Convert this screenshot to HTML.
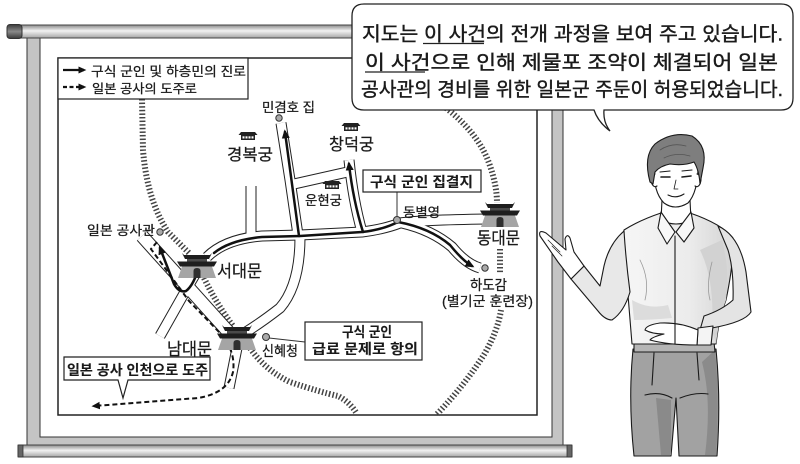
<!DOCTYPE html>
<html><head><meta charset="utf-8">
<style>
html,body{margin:0;padding:0;background:#fff;}
svg{display:block;}
text{font-family:"Liberation Sans","Noto Sans CJK KR",sans-serif;fill:#1a1a1a;stroke:#1a1a1a;stroke-width:0.25;}
.b{font-weight:bold;stroke-width:0.1;}
.bt{stroke-width:0.4;}
</style></head><body>
<svg width="800" height="464" viewBox="0 0 800 464" xmlns="http://www.w3.org/2000/svg">
<defs>
<linearGradient id="rod" x1="0" y1="0" x2="0" y2="1">
<stop offset="0" stop-color="#8a8a8a"/><stop offset="0.45" stop-color="#f2f2f2"/><stop offset="1" stop-color="#a5a5a5"/>
</linearGradient>
<linearGradient id="cap" x1="0" y1="0" x2="0" y2="1">
<stop offset="0" stop-color="#3a3a3a"/><stop offset="0.5" stop-color="#8a8a8a"/><stop offset="1" stop-color="#3a3a3a"/>
</linearGradient>
<linearGradient id="shirt" x1="0" y1="0" x2="1" y2="0">
<stop offset="0" stop-color="#f6f6f6"/><stop offset="0.6" stop-color="#ececec"/><stop offset="1" stop-color="#d4d4d4"/>
</linearGradient>
<marker id="ah" viewBox="0 0 10 10" refX="7" refY="5" markerWidth="3.6" markerHeight="3.6" orient="auto"><path d="M0,0.5 L10,5 L0,9.5 Z" fill="#111"/></marker>
<marker id="ahd" viewBox="0 0 10 10" refX="7" refY="5" markerWidth="4.2" markerHeight="4.2" orient="auto"><path d="M0,0.5 L10,5 L0,9.5 Z" fill="#111"/></marker>
<g id="gate">
 <polygon points="-13,2 13,2 15,0 12,6 -12,6 -15,0" fill="#1e1e1e"/>
 <rect x="-10" y="6" width="20" height="3" fill="#4a4a4a"/>
 <polygon points="-20,8.5 20,8.5 17,13.5 -17,13.5" fill="#1e1e1e"/>
 <polygon points="-15,13.5 15,13.5 19,25 -19,25" fill="#a5a5a5"/>
 <path d="M-3.5,25 V18 Q-3.5,15 0,15 Q3.5,15 3.5,18 V25 Z" fill="#2e2e2e"/>
</g>
<g id="pal">
 <polygon points="-7,0 7,0 9.5,3 -9.5,3" fill="#222"/>
 <rect x="-7" y="3" width="14" height="5" fill="#222"/>
 <rect x="-5.5" y="4.3" width="2" height="2.2" fill="#fff"/>
 <rect x="-2.5" y="4.3" width="2" height="2.2" fill="#fff"/>
 <rect x="0.5" y="4.3" width="2" height="2.2" fill="#fff"/>
 <rect x="3.5" y="4.3" width="2" height="2.2" fill="#fff"/>
</g>
</defs>

<!-- panel -->
<rect x="27" y="36" width="536" height="409" fill="#c4c4c4" stroke="#333" stroke-width="1"/>
<rect x="40" y="36" width="512" height="401" fill="#fff" stroke="#333" stroke-width="1"/>

<!-- map border -->
<rect x="58" y="58" width="479" height="357" fill="#fff" stroke="#222" stroke-width="1.5"/>

<!-- fortress walls -->
<g fill="none" stroke="#444" stroke-width="6" stroke-dasharray="1.5 2.1">
 <path d="M142,99 L143,150 Q147,200 168,232 L190,254"/>
 <path d="M204,278 Q216,303 233,326"/>
 <path d="M250,348 Q265,370 290,382 Q320,392 338,396 Q350,402 357,414"/>
 <path d="M437,414 Q465,385 485,353 Q498,330 501,310"/>
 <path d="M500,249 L500,273"/>
 <path d="M446,108 Q478,133 489,163 Q497,185 497,203"/>
</g>

<!-- roads -->
<g fill="none" stroke="#222" stroke-width="11" stroke-linejoin="round">
 <path d="M207,257 Q225,239 262,236 L300,235 L362,232 Q385,229 400,223 Q420,220 487,219"/>
 <path d="M402,223 Q432,230 452,247 Q466,264 480,268"/>
 <path d="M298,235 L290,180 L281,123"/>
 <path d="M362,232 Q353,200 349,160"/>
 <path d="M294,184 L352,171"/>
 <path d="M251,236 L251,186"/>
 <path d="M300,237 Q300,285 280,308 Q262,322 246,332"/>
 <path d="M199,268 L186,290 L160,336"/>
 <path d="M237,348 L229,388"/>
</g>
<path d="M142,236 L233,337" fill="none" stroke="#222" stroke-width="14"/>
<g fill="none" stroke="#fff" stroke-width="9" stroke-linejoin="round">
 <path d="M207,257 Q225,239 262,236 L300,235 L362,232 Q385,229 400,223 Q420,220 487,219"/>
 <path d="M402,223 Q432,230 452,247 Q466,264 480,268"/>
 <path d="M298,235 L290,180 L281,123"/>
 <path d="M362,232 Q353,200 349,160"/>
 <path d="M294,184 L352,171"/>
 <path d="M251,236 L251,186"/>
 <path d="M300,237 Q300,285 280,308 Q262,322 246,332"/>
 <path d="M199,268 L186,290 L160,336"/>
 <path d="M237,348 L229,388"/>
</g>
<path d="M142,236 L233,337" fill="none" stroke="#fff" stroke-width="12"/>

<!-- routes -->
<g fill="none" stroke="#111" stroke-width="2.5" stroke-linejoin="round" stroke-linecap="round">
 <path d="M398,222 Q382,230 362,232 L300,236 L262,237 Q230,240 214,253"/>
 <path d="M199,266 Q194,285 186,291 Q179,293 174,284 L160,248" marker-end="url(#ah)"/>
 <path d="M299,236 L285,132" marker-end="url(#ah)"/>
 <path d="M363,232 Q353,200 349,164" marker-end="url(#ah)"/>
 <path d="M398,222 Q430,228 450,245 Q463,261 472,266" marker-end="url(#ah)"/>
</g>
<path d="M157,242 L151,249 L189,301 L221,334 Q236,352 233,372 Q228,393 198,398 L94,406" fill="none" stroke="#111" stroke-width="2" stroke-dasharray="5 3" marker-end="url(#ahd)"/>

<!-- gates & palaces -->
<use href="#gate" x="197" y="253"/>
<use href="#gate" x="237" y="325"/>
<use href="#gate" x="500" y="202"/>
<use href="#pal" x="248" y="132"/>
<use href="#pal" x="351" y="123"/>
<use href="#pal" x="332" y="181"/>

<!-- dots -->
<g fill="#aaa" stroke="#333" stroke-width="1">
 <circle cx="279" cy="118" r="3.2"/>
 <circle cx="397" cy="220" r="3.5"/>
 <circle cx="485" cy="268" r="3.2"/>
 <circle cx="160" cy="232" r="3.2"/>
 <circle cx="266" cy="337" r="3.5"/>
</g>

<!-- connectors -->
<line x1="397" y1="192" x2="397" y2="217" stroke="#333" stroke-width="1"/>
<line x1="269" y1="338" x2="305" y2="342" stroke="#333" stroke-width="1"/>

<!-- boxes -->
<rect x="363" y="170" width="118" height="22" fill="#fff" stroke="#222" stroke-width="1.2"/>
<rect x="305" y="322" width="117" height="38" fill="#fff" stroke="#222" stroke-width="1.2"/>
<path d="M64,357 H210 V380 H128 L123,398 L118,380 H64 Z" fill="#fff" stroke="#222" stroke-width="1.2"/>

<!-- labels -->
<text x="262" y="112" font-size="13" textLength="53" lengthAdjust="spacingAndGlyphs">민겸호 집</text>
<text x="227" y="160" font-size="16" textLength="46" lengthAdjust="spacingAndGlyphs">경복궁</text>
<text x="329" y="150" font-size="16.5" textLength="45" lengthAdjust="spacingAndGlyphs">창덕궁</text>
<text x="305" y="205" font-size="13" textLength="37" lengthAdjust="spacingAndGlyphs">운현궁</text>
<text class="b" x="370" y="187" font-size="14" textLength="103" lengthAdjust="spacingAndGlyphs">구식 군인 집결지</text>
<text x="403" y="217" font-size="13" textLength="37" lengthAdjust="spacingAndGlyphs">동별영</text>
<text x="477" y="244" font-size="17" textLength="43" lengthAdjust="spacingAndGlyphs">동대문</text>
<text x="470" y="290" font-size="14" textLength="37" lengthAdjust="spacingAndGlyphs">하도감</text>
<text x="442" y="306" font-size="13.5" textLength="91" lengthAdjust="spacingAndGlyphs">(별기군 훈련장)</text>
<text x="87" y="235" font-size="13" textLength="68" lengthAdjust="spacingAndGlyphs">일본 공사관</text>
<text x="217" y="277" font-size="17" textLength="45" lengthAdjust="spacingAndGlyphs">서대문</text>
<text x="167" y="355" font-size="17" textLength="45" lengthAdjust="spacingAndGlyphs">남대문</text>
<text x="262" y="356" font-size="14" textLength="36" lengthAdjust="spacingAndGlyphs">신혜청</text>
<text class="b" x="342" y="337" font-size="14" textLength="50" lengthAdjust="spacingAndGlyphs">구식 군인</text>
<text class="b" x="312" y="354" font-size="14" textLength="106" lengthAdjust="spacingAndGlyphs">급료 문제로 항의</text>
<text class="b" x="67" y="375" font-size="14" textLength="141" lengthAdjust="spacingAndGlyphs">일본 공사 인천으로 도주</text>

<!-- legend -->
<rect x="58" y="58" width="190" height="41" fill="#fff" stroke="#222" stroke-width="1.2"/>
<line x1="63" y1="70" x2="84" y2="70" stroke="#111" stroke-width="2.2" marker-end="url(#ah)"/>
<line x1="63" y1="87" x2="84" y2="87" stroke="#111" stroke-width="2.2" stroke-dasharray="4 2.5" marker-end="url(#ah)"/>
<text x="91" y="76" font-size="13" textLength="155" lengthAdjust="spacingAndGlyphs">구식 군인 및 하층민의 진로</text>
<text x="92" y="93" font-size="12.5" textLength="105" lengthAdjust="spacingAndGlyphs">일본 공사의 도주로</text>

<!-- rods -->
<rect x="9" y="25" width="560" height="13" rx="2" fill="url(#rod)" stroke="#444" stroke-width="1"/>
<rect x="7" y="24.5" width="15" height="14" rx="3" fill="url(#cap)" stroke="#333" stroke-width="1"/>
<rect x="18" y="445" width="554" height="12" rx="1" fill="url(#rod)" stroke="#444" stroke-width="1"/>
<rect x="18" y="445" width="5" height="12" fill="#666" stroke="#333" stroke-width="0.8"/>
<rect x="567" y="445" width="5" height="12" fill="#666" stroke="#333" stroke-width="0.8"/>

<!-- man -->
<g stroke="#1a1a1a" stroke-width="1.1" stroke-linejoin="round" stroke-linecap="round">
 <path d="M633,349 L716,349 Q721,400 717,456 L679,456 L676,398 L671,456 L634,456 Q628,400 633,349 Z" fill="#a2a2a2"/>
 <path d="M656,398 L671,400 L671,455 L661,455 Z" fill="#8a8a8a" stroke="none"/>
 <path d="M702,362 Q712,400 705,455 L716,455 Q720,400 715,350 Z" fill="#8b8b8b" stroke="none"/>
 <path d="M645,395 Q660,391 672,398 M680,398 Q695,392 708,394 M654,353 L652,385 M697,353 L699,380" fill="none"/>
 <path d="M634,342 L714,342 L715,352 L634,352 Z" fill="#b5b5b5"/>
 <path d="M661,213 Q640,220 624,230 Q618,262 628,295 L632,344 L716,344 Q719,318 726,300 Q734,262 733,238 Q722,224 690,213 Z" fill="url(#shirt)"/>
 <path d="M700,250 Q715,280 712,330 L716,344 Q719,318 726,300 Q730,270 722,240 Z" fill="#d2d2d2" stroke="none"/>
 <path d="M632,300 Q650,310 668,305 L672,318 Q650,320 634,320 Z" fill="#dcdcdc" stroke="none"/>
 <path d="M718,226 Q740,236 746,272 L751,312 Q745,322 712,328 L700,330 L704,316 Q722,310 733,300 Q734,270 728,250 Z" fill="#e4e4e4"/>
 <path d="M698,328 L713,326 L711,345 L697,345 Z" fill="#f4f4f4"/>
 <path d="M698,330 Q680,322 660,323 Q646,325 645,330 Q652,334 664,334 Q652,337 650,340 Q668,345 697,345 Z" fill="#fff"/>
 <path d="M624,231 Q609,244 604,266 L600,286 L584,266 L571,279 L598,311 Q605,320 612,320 Q624,312 630,292 Q626,262 624,231 Z" fill="#e8e8e8"/>
 <path d="M584,266 L574,252 L570,238 Q567,233 565,239 L566,250 L546,233 Q538,229 540,236 L558,262 L571,279 Z" fill="#fff"/>
 <path d="M548,240 L560,252 M552,246 L562,256" fill="none" stroke-width="0.7"/>
 <path d="M662,200 L661,220 Q676,228 691,220 L690,200 Z" fill="#fff"/>
 <path d="M661,212 L658,228 L667,244 L675,232 Z" fill="#f8f8f8"/>
 <path d="M691,212 L694,228 L684,242 L676,232 Z" fill="#f8f8f8"/>
 <line x1="675" y1="236" x2="675" y2="344"/>
 <path d="M640,260 Q650,280 645,300 M712,262 Q706,285 710,300" fill="none" stroke="#999" stroke-width="0.8"/>
 <path d="M654,166 Q653,192 664,203 Q675,211 688,203 Q698,192 698,166 Q690,156 676,156 Q661,157 654,166 Z" fill="#fff"/>
 <path d="M655,174 Q649,176 652,184 Q654,188 657,186 M697,174 Q703,176 700,184 Q698,188 695,186" fill="#fff"/>
 <path d="M650,182 Q643,156 655,144 Q672,131 692,136 Q708,146 703,168 L700,184 Q699,170 694,162 Q684,166 670,164 Q660,166 655,172 L653,184 Z" fill="#7e7e7e"/>
 <path d="M660,150 Q672,142 686,146 M664,158 Q676,152 690,156" fill="none" stroke="#555" stroke-width="0.8"/>
 <path d="M661,177 L670,177 M682,177 L691,176" fill="none" stroke-width="1.6"/>
 <path d="M660,172 L670,171 M682,171 L692,170" fill="none"/>
 <path d="M676,180 L674,189 L678,189" fill="none" stroke-width="0.8"/>
 <path d="M668,195 Q676,199 684,194" fill="none"/>
</g>

<!-- speech bubble -->
<path d="M364,4 H781 Q793,4 793,16 V98 Q793,110 781,110 H604 Q603,122 610,131 Q598,122 594,110 H364 Q352,110 352,98 V16 Q352,4 364,4 Z" fill="#fff" stroke="#222" stroke-width="1.3"/>
<text class="bt" x="362" y="40.5" font-size="19.5" textLength="421" lengthAdjust="spacingAndGlyphs">지도는 이 사건의 전개 과정을 보여 주고 있습니다.</text>
<text class="bt" x="365" y="69" font-size="19.5" textLength="413" lengthAdjust="spacingAndGlyphs">이 사건으로 인해 제물포 조약이 체결되어 일본</text>
<text class="bt" x="361" y="96" font-size="19.5" textLength="422" lengthAdjust="spacingAndGlyphs">공사관의 경비를 위한 일본군 주둔이 허용되었습니다.</text>
<line x1="423" y1="43.5" x2="484" y2="43.5" stroke="#222" stroke-width="1.2"/>
<line x1="365" y1="72" x2="425" y2="72" stroke="#222" stroke-width="1.2"/>
</svg>
</body></html>
